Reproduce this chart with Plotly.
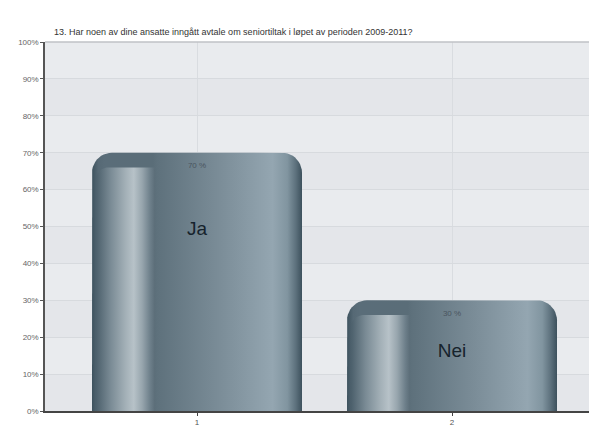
import numpy as np
import plotly.graph_objects as go

# ---- data ----
categories = [1, 2]
cat_labels = ["Ja", "Nei"]
values = [70, 30]
value_labels = ["70 %", "30 %"]
name_label_y = [49, 16]
y_ticks = [0, 10, 20, 30, 40, 50, 60, 70, 80, 90, 100]
title = "13. Har noen av dine ansatte inngått avtale om seniortiltak i løpet av perioden 2009-2011?"

# ---- geometry/style ----
PX_X = 255.0          # px per x unit
PX_Y = 3.69           # px per y unit (%)
half_w = 105 / PX_X
rx, ry = 20 / PX_X, 20 / PX_Y

main_scale = [
    [0.00, "#3d525e"], [0.03, "#566975"], [0.06, "#5a6d79"],
    [0.29, "#5a6d78"], [0.31, "#5e717c"], [0.60, "#7a8c97"],
    [0.86, "#94a6b1"], [0.93, "#8195a0"], [0.97, "#5d717d"], [1.00, "#3d515d"],
]
inner_scale = [
    [0.00, "#4b5f6b"], [0.25, "#7a8b95"], [0.50, "#a3b0b7"], [0.64, "#b7c2c8"],
    [0.78, "#98a6ae"], [0.92, "#6d7f8a"], [1.00, "#5b6d78"],
]


def rounded_top_rect(x0, x1, top, rxl, rxr, ryy):
    xs, ys = [x0], [0]
    t = np.linspace(np.pi, np.pi / 2, 12)
    xs += list(x0 + rxl + rxl * np.cos(t)); ys += list(top - ryy + ryy * np.sin(t))
    if rxr > 0:
        t = np.linspace(np.pi / 2, 0, 12)
        xs += list(x1 - rxr + rxr * np.cos(t)); ys += list(top - ryy + ryy * np.sin(t))
    else:
        xs += [x1]; ys += [top]
    xs += [x1, x0]; ys += [0, 0]
    return xs, ys


fig = go.Figure()

for c, v in zip(categories, values):
    x0, x1 = c - half_w, c + half_w
    xs, ys = rounded_top_rect(x0, x1, v, rx, rx, ry)
    fig.add_trace(go.Scatter(
        x=xs, y=ys, mode="lines", fill="toself", line=dict(width=0),
        fillgradient=dict(type="horizontal", colorscale=main_scale),
        hoverinfo="skip", showlegend=False))
    ix0, ix1 = x0 + 4 / PX_X, x0 + 63 / PX_X
    xs, ys = rounded_top_rect(ix0, ix1, v - 4, 12 / PX_X, 0, 12 / PX_Y)
    fig.add_trace(go.Scatter(
        x=xs, y=ys, mode="lines", fill="toself", line=dict(width=0),
        fillgradient=dict(type="horizontal", colorscale=inner_scale),
        hoverinfo="skip", showlegend=False))

# value labels and category names
fig.add_trace(go.Scatter(
    x=categories, y=[v - 3.6 for v in values], mode="text", text=value_labels,
    textfont=dict(size=8, color="#4a5560", family="Liberation Sans"),
    hoverinfo="skip", showlegend=False))
fig.add_trace(go.Scatter(
    x=categories, y=name_label_y, mode="text", text=cat_labels,
    textfont=dict(size=19, color="#16232c", family="Liberation Sans"),
    hoverinfo="skip", showlegend=False))

# alternating background bands
shapes = []
for i, t in enumerate(y_ticks[:-1]):
    shapes.append(dict(type="rect", xref="paper", yref="y", x0=0, x1=1,
                       y0=t, y1=y_ticks[i + 1], layer="below", line=dict(width=0),
                       fillcolor="#e9ebee" if i % 2 else "#e4e6ea"))
shapes.append(dict(type="line", xref="paper", yref="paper", x0=0, x1=1, y0=1, y1=1,
                   line=dict(color="#bfc2c6", width=1.5)))
shapes.append(dict(type="line", xref="paper", yref="paper", x0=1, x1=1, y0=0, y1=1,
                   line=dict(color="#d3d6da", width=1)))

# page body has an 8px margin, so the figure is sized/offset to compensate
fig.update_layout(
    width=589, height=426,
    margin=dict(l=37, r=4, t=34, b=23),
    paper_bgcolor="white", plot_bgcolor="#e6e8eb",
    shapes=shapes,
    font=dict(family="Liberation Sans", size=8, color="#555"),
    annotations=[dict(text=title, xref="paper", yref="paper", x=0.012, y=1.0,
                      xanchor="left", yanchor="bottom", yshift=3, showarrow=False,
                      font=dict(size=9, color="#333", family="Liberation Sans"))],
)
fig.update_xaxes(range=[1 - 152 / PX_X, 1 - 152 / PX_X + 548 / PX_X],
                 tickvals=categories, ticktext=[str(c) for c in categories],
                 showgrid=True, gridcolor="#d9dce0", gridwidth=1, zeroline=False,
                 showline=True, linecolor="#444", linewidth=1.5,
                 ticks="outside", ticklen=3, tickcolor="#444",
                 tickfont=dict(size=8, color="#555"), fixedrange=True)
fig.update_yaxes(range=[0, 100], tickvals=y_ticks, ticktext=[f"{t}%" for t in y_ticks],
                 showgrid=True, gridcolor="#d7dade", gridwidth=1, zeroline=False,
                 showline=True, linecolor="#555", linewidth=1.5,
                 ticks="outside", ticklen=3, tickcolor="#555",
                 tickfont=dict(size=8, color="#666"), fixedrange=True)

fig.write_html("out.html")
